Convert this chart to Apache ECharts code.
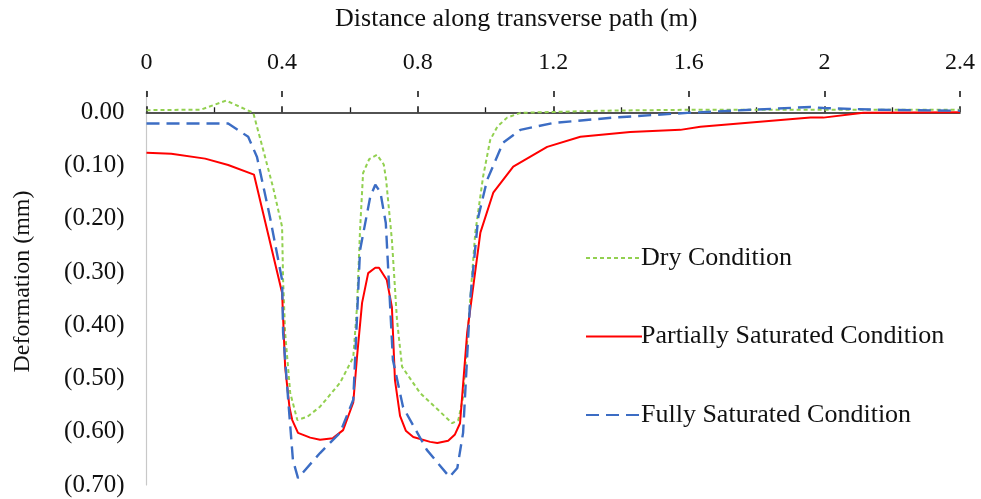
<!DOCTYPE html>
<html>
<head>
<meta charset="utf-8">
<script src="https://cdn.jsdelivr.net/npm/echarts@6/dist/echarts.min.js"></script>
<style>
  html, body { margin: 0; padding: 0; background: #fff; }
  #chart { width: 981px; height: 499px; }
</style>
</head>
<body>
<div id="chart"></div>
<script>
// Distance along the transverse path (m) and deformation (mm, negative = settlement)
const dryX = [0, 0.161, 0.235, 0.315, 0.344, 0.373, 0.400, 0.403, 0.409, 0.424, 0.445, 0.474, 0.512, 0.571, 0.610, 0.621, 0.630, 0.639, 0.657, 0.680, 0.700, 0.707, 0.724, 0.739, 0.754, 0.807, 0.902, 0.920, 0.934, 0.955, 0.970, 0.993, 1.014, 1.035, 1.064, 1.103, 1.340, 1.634, 2.020, 2.400];
const dryY = [0.004, 0.005, 0.022, -0.001, -0.070, -0.140, -0.215, -0.315, -0.414, -0.527, -0.578, -0.572, -0.553, -0.508, -0.460, -0.366, -0.221, -0.114, -0.088, -0.080, -0.098, -0.127, -0.240, -0.390, -0.478, -0.527, -0.584, -0.578, -0.535, -0.352, -0.226, -0.121, -0.052, -0.027, -0.010, -0.001, 0.003, 0.005, 0.005, 0.005];

const partX = [0, 0.073, 0.173, 0.241, 0.317, 0.400, 0.409, 0.422, 0.430, 0.447, 0.483, 0.512, 0.550, 0.580, 0.610, 0.621, 0.636, 0.654, 0.675, 0.686, 0.709, 0.724, 0.733, 0.748, 0.765, 0.787, 0.837, 0.858, 0.890, 0.910, 0.925, 0.946, 0.985, 1.023, 1.082, 1.182, 1.280, 1.427, 1.575, 1.634, 1.959, 1.997, 2.115, 2.400];
const partY = [-0.076, -0.078, -0.087, -0.099, -0.117, -0.339, -0.478, -0.555, -0.578, -0.602, -0.611, -0.615, -0.612, -0.597, -0.545, -0.460, -0.358, -0.302, -0.292, -0.292, -0.315, -0.366, -0.503, -0.570, -0.598, -0.610, -0.619, -0.621, -0.617, -0.605, -0.584, -0.414, -0.226, -0.151, -0.102, -0.065, -0.046, -0.037, -0.033, -0.027, -0.010, -0.010, -0.001, 0];

const fullX = [0, 0.241, 0.300, 0.326, 0.364, 0.400, 0.403, 0.418, 0.432, 0.447, 0.512, 0.571, 0.610, 0.630, 0.660, 0.675, 0.690, 0.706, 0.727, 0.757, 0.827, 0.894, 0.917, 0.934, 0.955, 0.979, 1.005, 1.052, 1.103, 1.200, 1.377, 1.596, 1.959, 1.997, 2.145, 2.400];
const fullY = [-0.021, -0.021, -0.046, -0.084, -0.196, -0.315, -0.414, -0.540, -0.653, -0.687, -0.640, -0.602, -0.540, -0.259, -0.159, -0.136, -0.150, -0.208, -0.465, -0.554, -0.634, -0.685, -0.668, -0.602, -0.352, -0.196, -0.127, -0.057, -0.033, -0.020, -0.010, -0.001, 0.010, 0.008, 0.005, 0.003];

const seriesNames = ['Dry Condition', 'Partially Saturated Condition', 'Fully Saturated Condition'];

const FONT = '"Liberation Serif", "Times New Roman", serif';

function pairs(xs, ys) {
  return xs.map((x, i) => [x, ys[i]]);
}

function deformationLabel(v) {
  if (v > 0.001) return '';
  if (Math.abs(v) < 1e-9) return '0.00';
  return '(' + Math.abs(v).toFixed(2) + ')';
}

const chart = echarts.init(document.getElementById('chart'), null, { renderer: 'canvas' });

const xCommon = { type: 'value', min: 0, max: 2.4, interval: 0.4, position: 'top', splitLine: { show: false } };

chart.setOption({
  animation: false,
  backgroundColor: '#ffffff',
  textStyle: { fontFamily: FONT },
  grid: { left: 146.5, right: 21, top: 91, bottom: 14, containLabel: false },
  xAxis: [
    // axis line at zero with outward major/minor ticks
    Object.assign({}, xCommon, {
      axisLine: { show: true, onZero: true, lineStyle: { color: '#1a1a1a', width: 1.6 } },
      axisTick: { show: true, inside: false, length: 6, lineStyle: { color: '#1a1a1a', width: 1.6 } },
      minorTick: { show: true, splitNumber: 2, length: 5, lineStyle: { color: '#1a1a1a', width: 1.3 } },
      axisLabel: { show: false }
    }),
    // inward half of the crossing major ticks
    Object.assign({}, xCommon, {
      axisLine: { show: false, onZero: true },
      axisTick: { show: true, inside: true, length: 6, lineStyle: { color: '#1a1a1a', width: 1.6 } },
      axisLabel: { show: false }
    }),
    // tick labels and title along the top edge
    Object.assign({}, xCommon, {
      name: 'Distance along transverse path (m)',
      nameLocation: 'middle',
      nameGap: 59,
      nameTextStyle: { fontFamily: FONT, fontSize: 26, color: '#111', padding: [0, 74, 0, 0] },
      axisLine: { show: false, onZero: false },
      axisTick: { show: false },
      axisLabel: { show: true, margin: 16, fontFamily: FONT, fontSize: 24, color: '#111' }
    })
  ],
  yAxis: {
    type: 'value',
    min: -0.7,
    max: 0.04,
    interval: 0.1,
    name: 'Deformation (mm)',
    nameLocation: 'middle',
    nameGap: 112,
    nameTextStyle: { fontFamily: FONT, fontSize: 24, color: '#111', padding: [0, 0, 0, 13] },
    axisLine: { show: true, onZero: false, lineStyle: { color: '#c8c8c8', width: 1.2 } },
    axisTick: { show: false },
    splitLine: { show: false },
    axisLabel: { margin: 22, fontFamily: FONT, fontSize: 25, color: '#111', formatter: deformationLabel }
  },
  legend: {
    orient: 'vertical',
    left: 580,
    top: 240,
    itemWidth: 56,
    itemHeight: 20,
    itemGap: 52.5,
    data: seriesNames,
    itemStyle: { opacity: 0 },
    textStyle: { fontFamily: FONT, fontSize: 26, color: '#111', padding: [0, 0, 0, -6] }
  },
  series: [
    {
      name: seriesNames[0], type: 'line', xAxisIndex: 0, symbol: 'none', smooth: false,
      data: pairs(dryX, dryY),
      lineStyle: { color: '#92D050', width: 2, type: [4, 3] },
      itemStyle: { color: '#92D050' }
    },
    {
      name: seriesNames[1], type: 'line', xAxisIndex: 0, symbol: 'none', smooth: false,
      data: pairs(partX, partY),
      lineStyle: { color: '#FF0000', width: 2 },
      itemStyle: { color: '#FF0000' }
    },
    {
      name: seriesNames[2], type: 'line', xAxisIndex: 0, symbol: 'none', smooth: false,
      data: pairs(fullX, fullY),
      lineStyle: { color: '#3C6DC4', width: 2.4, type: [13, 7] },
      itemStyle: { color: '#3C6DC4' }
    }
  ]
});
</script>
</body>
</html>
